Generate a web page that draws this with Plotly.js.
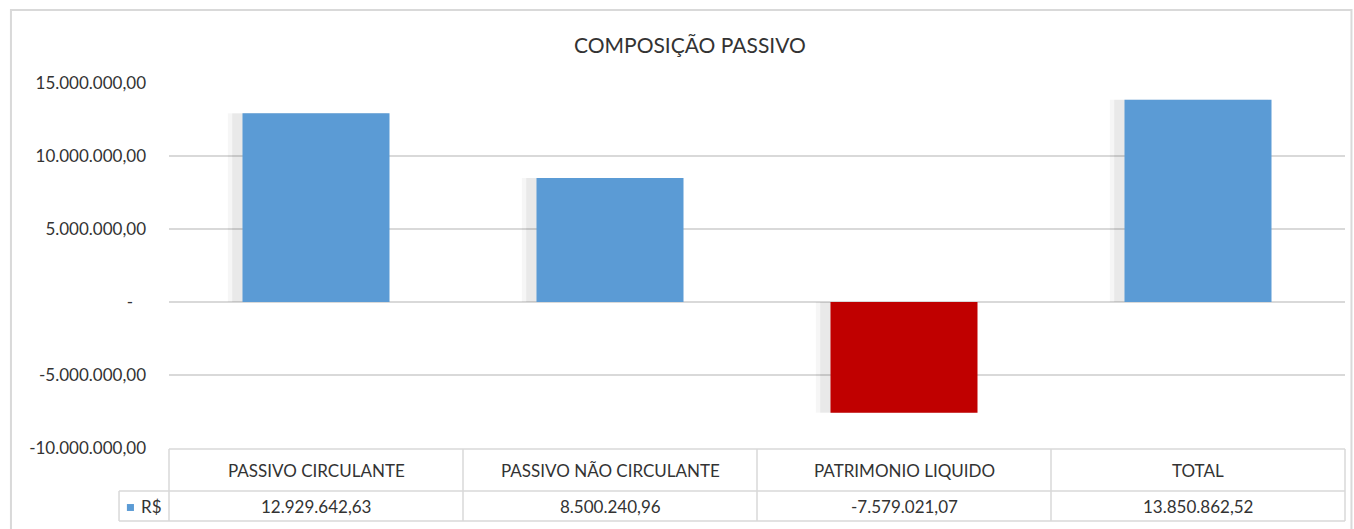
<!DOCTYPE html>
<html>
<head>
<meta charset="utf-8">
<script src="https://cdn.plot.ly/plotly-3.0.1.min.js"></script>
<style>html,body{margin:0;padding:0;background:#fff;}#chart{width:1354px;height:529px;}</style>
</head>
<body>
<div id="chart"></div>
<script>
const categories = ['PASSIVO CIRCULANTE', 'PASSIVO NÃO CIRCULANTE', 'PATRIMONIO LIQUIDO', 'TOTAL'];
const values = [12929642.63, 8500240.96, -7579021.07, 13850862.52];
const barColors = ['#5B9BD5', '#5B9BD5', '#C00000', '#5B9BD5'];
const seriesName = 'R$';
const tickVals = [15000000, 10000000, 5000000, 0, -5000000, -10000000];
const tickText = ['15.000.000,00', '10.000.000,00', '5.000.000,00', '-\u00A0\u00A0\u00A0', '-5.000.000,00', '-10.000.000,00'];

function fmtBR(v) {
  const neg = v < 0;
  const s = Math.abs(v).toFixed(2);
  let [ip, dp] = s.split('.');
  ip = ip.replace(/\B(?=(\d{3})+(?!\d))/g, '.');
  return (neg ? '-' : '') + ip + ',' + dp;
}

const FONT = 'Lato, "Open Sans", sans-serif';
const grid = '#D9D9D9';
const txt = '#333333';

const yTop = -0.003, yMid = -0.118, yBot = -0.2;
const xLeg = -0.0425;

const shapes = [];
shapes.push({type:'rect', xref:'paper', yref:'paper', x0:-0.1344, x1:1.0055, y0:-0.35, y1:1.2, line:{color:'#D9D9D9', width:2}, layer:'below'});
shapes.push({type:'line', xref:'paper', yref:'paper', x0:0, x1:1, y0:yTop, y1:yTop, line:{color:grid, width:1.5}});
shapes.push({type:'line', xref:'paper', yref:'paper', x0:xLeg, x1:1, y0:yMid, y1:yMid, line:{color:grid, width:1.5}});
shapes.push({type:'line', xref:'paper', yref:'paper', x0:xLeg, x1:1, y0:yBot, y1:yBot, line:{color:grid, width:1.5}});
for (let i = 0; i <= categories.length; i++) {
  const xp = i / categories.length;
  shapes.push({type:'line', xref:'paper', yref:'paper', x0:xp, x1:xp, y0:yTop, y1:yBot, line:{color:grid, width:1.5}});
}
shapes.push({type:'line', xref:'paper', yref:'paper', x0:xLeg, x1:xLeg, y0:yMid, y1:yBot, line:{color:grid, width:1.5}});
shapes.push({type:'rect', xref:'paper', yref:'paper', x0:-0.0358, x1:-0.0298, y0:-0.1725, y1:-0.1535, line:{width:0}, fillcolor:'#5B9BD5'});

const annotations = [];
annotations.push({text:'COMPOSIÇÃO PASSIVO', xref:'paper', yref:'paper', x:0.443, y:1.105, showarrow:false, font:{family:FONT, size:21, color:txt}, xanchor:'center', yanchor:'middle'});
categories.forEach((c, i) => {
  annotations.push({text:c, xref:'x', yref:'paper', x:c, y:(yTop + yMid)/2, showarrow:false, font:{family:FONT, size:17, color:txt}, xanchor:'center', yanchor:'middle'});
  annotations.push({text:fmtBR(values[i]), xref:'x', yref:'paper', x:c, y:(yMid + yBot)/2, showarrow:false, font:{family:FONT, size:17, color:txt}, xanchor:'center', yanchor:'middle'});
});
annotations.push({text:seriesName, xref:'paper', yref:'paper', x:-0.0255, y:(yMid + yBot)/2, showarrow:false, font:{family:FONT, size:17, color:txt}, xanchor:'left', yanchor:'middle'});

const shadowOuter = {
  type:'bar', x:categories, y:values, width:0.545, offset:-0.3,
  marker:{color:'rgba(0,0,0,0.035)', line:{width:0}}, hoverinfo:'skip', showlegend:false
};
const shadowInner = {
  type:'bar', x:categories, y:values, width:0.525, offset:-0.285,
  marker:{color:'rgba(0,0,0,0.05)', line:{width:0}}, hoverinfo:'skip', showlegend:false
};
const bars = {
  type:'bar', x:categories, y:values, name:seriesName, width:0.5,
  marker:{color:barColors, line:{width:0}}, showlegend:false
};

const layout = {
  width:1354, height:529,
  margin:{l:169, r:9, t:83, b:81},
  paper_bgcolor:'#fff', plot_bgcolor:'#fff',
  barmode:'overlay',
  showlegend:false,
  xaxis:{type:'category', showticklabels:false, showgrid:false, zeroline:false, showline:false, ticks:'', fixedrange:true},
  yaxis:{range:[-10000000, 15000000], tickvals:tickVals, ticktext:tickText, showgrid:true, gridcolor:grid, gridwidth:1.5,
         zeroline:false, showline:false, ticks:'', ticklabelstandoff:22, tickfont:{family:FONT, size:17, color:txt}},
  shapes:shapes, annotations:annotations
};

Plotly.newPlot('chart', [shadowOuter, shadowInner, bars], layout, {displayModeBar:false, staticPlot:true});
</script>
</body>
</html>
